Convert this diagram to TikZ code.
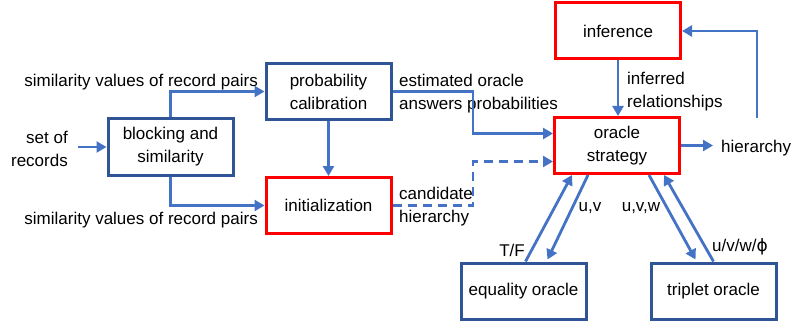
\documentclass[tikz,border=0pt]{standalone}
\usepackage{fontspec}
\setmainfont{Liberation Sans}
\newfontfamily\dvsans{DejaVu Sans}
\usetikzlibrary{arrows.meta}
\definecolor{boxblue}{HTML}{2F5597}
\definecolor{arrblue}{HTML}{4472C4}
\definecolor{boxred}{HTML}{FF0000}
\begin{document}
\begin{tikzpicture}[x=1pt,y=-1pt,
  font=\fontsize{17}{23}\selectfont,
  bluebox/.style={draw=boxblue,line width=3pt,minimum width=125pt,minimum height=56pt,align=center,inner sep=0pt},
  redbox/.style={draw=boxred,line width=3pt,minimum width=125pt,minimum height=56pt,align=center,inner sep=0pt},
  arr/.style={draw=arrblue,line width=2.8pt,-{Triangle[length=10pt,width=11pt]}},
  lbl/.style={inner sep=0pt,text=black}]
\useasboundingbox (0,0) rectangle (792,326);
% boxes
\node[bluebox] (blk) at (170.5,147) {blocking and\\similarity};
\node[bluebox] (pc) at (328.5,91.5) {probability\\calibration};
\node[redbox] (init) at (328.5,205.5) {initialization};
\node[redbox] (inf) at (618,31) {inference};
\node[redbox] (os) at (617,145.5) {oracle\\strategy};
\node[bluebox] (eq) at (523.5,291) {equality oracle};
\node[bluebox] (tc) at (713.5,291) {triplet oracle};
% text labels
\node[lbl,anchor=east,align=right] (sor) at (68,149) {set of\\records};
\node[lbl,anchor=east] (sv1) at (258,82) {similarity values of record pairs};
\node[lbl,anchor=east] (sv2) at (258,220) {similarity values of record pairs};
\node[lbl,anchor=west,align=left] (est) at (399,93.5) {estimated oracle\\answers probabilities};
\node[lbl,anchor=west,align=left] (cand) at (399,206.5) {candidate\\hierarchy};
\node[lbl,anchor=west,align=left] (ir) at (627,92) {inferred\\relationships};
\node[lbl,anchor=west] (hier) at (721,148) {hierarchy};
\node[lbl] (uv) at (590,208) {u,v};
\node[lbl] (uvw) at (641,208) {u,v,w};
\node[lbl] (tf) at (512,250) {T/F};
\node[lbl] (uvwp) at (740,247) {u/v/w/{\dvsans ϕ}};
\coordinate (bend) at (473,0);
\coordinate (loop) at (757,118);
% connectors
\draw[arr] ([xshift=10pt]sor.east |- blk.west) -- (blk.west);
\draw[arr] (blk.north) |- (pc.west);
\draw[arr] (blk.south) |- (init.west);
\draw[arr] (pc.south) -- (init.north);
\draw[arr] (pc.east) -- (pc.east -| bend) |- ([yshift=12pt]os.west);
\draw[arr,dash pattern=on 9pt off 6pt] (init.east) -- (init.east -| bend) |- ([yshift=-16pt]os.west);
\draw[arr] (inf.south) -- (inf.south |- os.north);
\draw[arr] (os.east) -- ([xshift=-8pt]os.east -| hier.west);
\draw[arr] (loop) |- (inf.east);
\draw[arr] ([xshift=2pt]eq.north) -- ([xshift=-45pt]os.south);
\draw[arr] ([xshift=-29pt]os.south) -- ([xshift=24pt,yshift=2pt]eq.north);
\draw[arr] ([xshift=32pt]os.south) -- ([xshift=-18pt,yshift=2pt]tc.north);
\draw[arr] ([xshift=0pt]tc.north) -- ([xshift=47pt]os.south);
\end{tikzpicture}
\end{document}
